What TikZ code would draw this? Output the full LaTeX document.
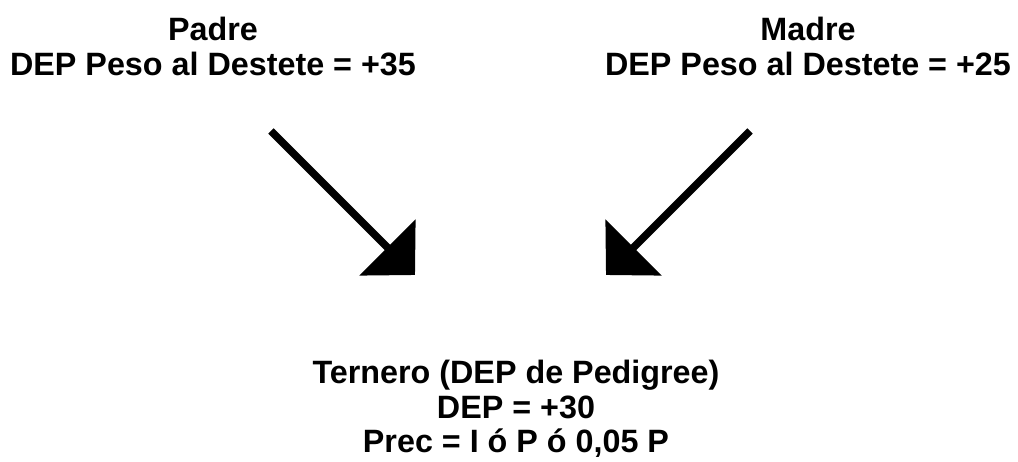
\documentclass[tikz,border=0pt]{standalone}
\usepackage{fontspec}
\setmainfont{Liberation Sans}
\usetikzlibrary{arrows.meta}
\begin{document}
\begin{tikzpicture}[x=1pt,y=-1pt,
  label/.style={align=center,inner sep=0pt,anchor=base,
    font=\fontsize{32.3}{35}\selectfont\bfseries},
  bigarrow/.style={line width=7.5pt,-{Triangle[length=39pt,width=78pt]}}]
\useasboundingbox (0,0) rectangle (1018,462);
\node[label] (padre) at (213,76) {Padre\\DEP Peso al Destete = +35};
\node[label] (madre) at (808,76) {Madre\\DEP Peso al Destete = +25};
\node[label] (ternero) at (516,453) {Ternero (DEP de Pedigree)\\DEP = +30\\Prec = I ó P ó 0,05 P};
\coordinate (a1s) at (271,131);
\coordinate (a1e) at (415,275);
\coordinate (a2s) at (750,131);
\coordinate (a2e) at (606,275);
\draw[bigarrow] (a1s) -- (a1e);
\draw[bigarrow] (a2s) -- (a2e);
\end{tikzpicture}
\end{document}
